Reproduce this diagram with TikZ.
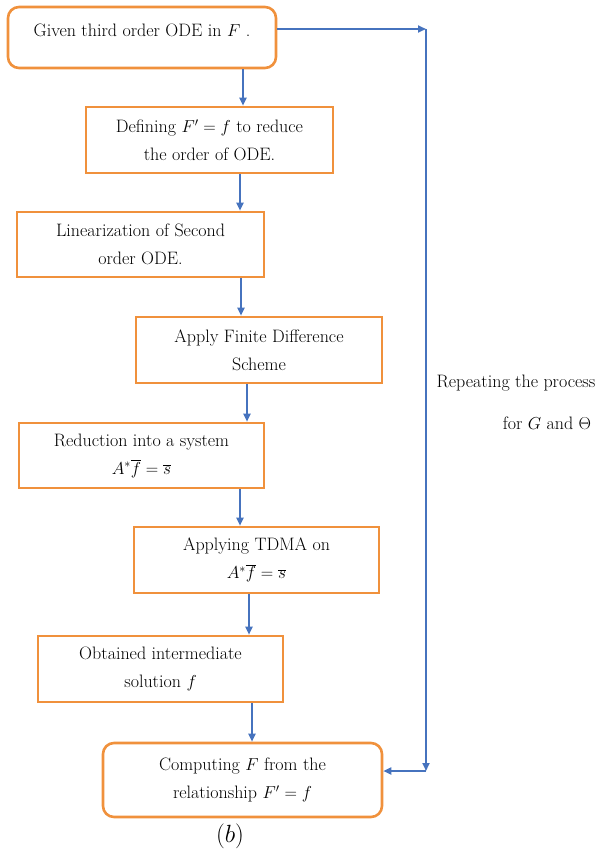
\documentclass[tikz,border=0pt]{standalone}
\usetikzlibrary{arrows.meta}
\definecolor{boxorange}{RGB}{240,145,60}
\definecolor{lineblue}{RGB}{70,115,190}
\begin{document}
\begin{tikzpicture}[x=1pt,y=-1pt,
  box/.style={draw=boxorange,line width=2.6pt,align=center,inner sep=0pt,
    font=\fontsize{18}{28}\selectfont},
  rbox/.style={box,rounded corners=11pt},
  arr/.style={draw=lineblue,line width=1.8pt,-{Triangle[length=8pt,width=7pt]}},
  lbl/.style={font=\fontsize{18}{28}\selectfont,inner sep=0pt}]
\useasboundingbox (0,0) rectangle (603,853);

\node[rbox,minimum width=268pt,minimum height=61pt] (b1) at (142,37.5)
  {Given third order ODE in $F$ .\\[-21pt] \strut};
\node[box,minimum width=247pt,minimum height=66pt] (b2) at (209.5,140)
  {Defining $F'=f$ to reduce\\ the order of ODE.};
\node[box,minimum width=247pt,minimum height=65pt] (b3) at (140.5,244.5)
  {Linearization of Second\\ order ODE.};
\node[box,minimum width=246pt,minimum height=66pt] (b4) at (259,350)
  {Apply Finite Difference\\ Scheme};
\node[box,minimum width=245pt,minimum height=65pt] (b5) at (141.5,455.5)
  {Reduction into a system\\ $A^{*}\overline{f}=\overline{s}$};
\node[box,minimum width=245pt,minimum height=66pt] (b6) at (256.5,560)
  {Applying TDMA on\\ $A^{*}\overline{f}=\overline{s}$};
\node[box,minimum width=245pt,minimum height=66pt] (b7) at (160.5,669)
  {Obtained intermediate\\ solution $f$};
\node[rbox,minimum width=279pt,minimum height=74pt] (b8) at (242.5,780)
  {Computing $F$ from the\\ relationship $F'=f$};

\draw[arr] (243,0 |- b1.south) -- (243,0 |- b2.north);
\draw[arr] (240,0 |- b2.south) -- (240,0 |- b3.north);
\draw[arr] (241,0 |- b3.south) -- (241,0 |- b4.north);
\draw[arr] (247,0 |- b4.south) -- (247,0 |- b5.north);
\draw[arr] (240,0 |- b5.south) -- (240,0 |- b6.north);
\draw[arr] (249,0 |- b6.south) -- (249,0 |- b7.north);
\draw[arr] (252,0 |- b7.south) -- (252,0 |- b8.north);

\coordinate (tr) at (426,29);
\coordinate (br) at (426,771);
\draw[arr] (b1.east |- tr) -- (tr);
\draw[arr] (tr) -- (br);
\draw[arr] (br) -- (b8.east |- br);

\node[lbl] (rep1) at (516,383) {Repeating the process};
\node[lbl] (rep2) at (547,423) {for $G$ and $\Theta$};
\node[lbl,font=\fontsize{23}{28}\selectfont] (cap) at (230,836) {$(b)$};
\end{tikzpicture}
\end{document}
